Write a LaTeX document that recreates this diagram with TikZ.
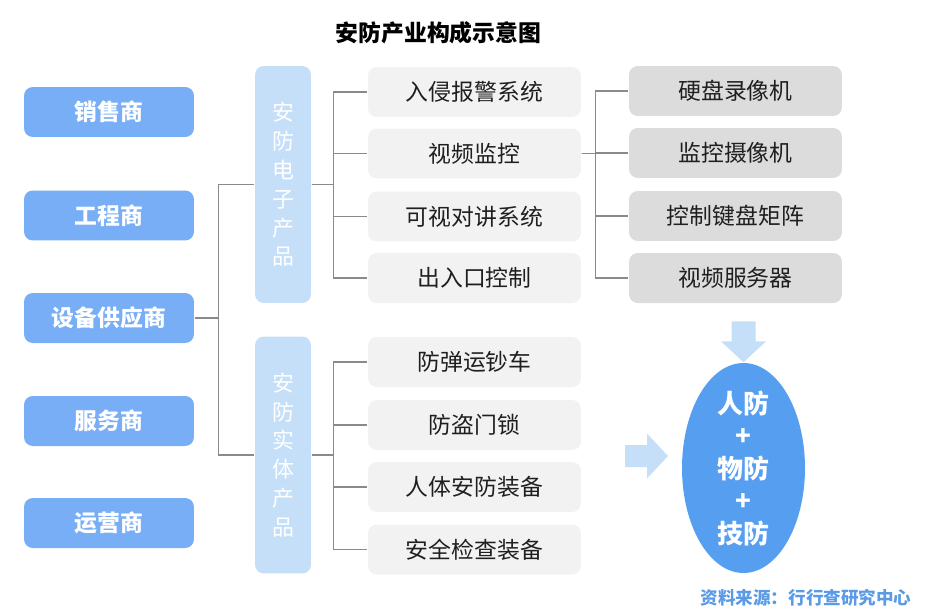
\documentclass[tikz,border=0pt]{standalone}
\usepackage{fontspec}
\setmainfont{Noto Sans CJK SC}
\usetikzlibrary{shapes.geometric}
\definecolor{partyblue}{HTML}{77AEF5}
\definecolor{groupblue}{HTML}{C6DFF8}
\definecolor{itemgray}{HTML}{F2F2F3}
\definecolor{subgray}{HTML}{DCDCDC}
\definecolor{coreblue}{HTML}{559EF0}
\definecolor{notecolor}{HTML}{5B9BE6}
\definecolor{linegray}{HTML}{8A8A8A}
\begin{document}
\begin{tikzpicture}[
        x=0.02cm, y=-0.02cm,
        party/.style = {rectangle, rounded corners=5pt, fill=partyblue, text=white,
            font=\fontsize{13}{15}\selectfont\bfseries, minimum width=3.4cm, minimum height=1cm},
        group/.style = {rectangle, rounded corners=5pt, fill=groupblue, text=white, align=center,
            font=\fontsize{12.5}{16.4}\selectfont, minimum width=1.12cm, minimum height=4.74cm},
        item/.style = {rectangle, rounded corners=5pt, fill=itemgray, text=black!88,
            font=\fontsize{13}{15}\selectfont, minimum width=4.26cm, minimum height=1cm},
        part/.style = {item, fill=subgray},
        link/.style = {draw=linegray, line width=0.9pt},
        thick
    ]
        \useasboundingbox (0,0) rectangle (932,612);
        \node[font=\fontsize{13}{15}\selectfont\bfseries] (title) at (438.5,33) {安防产业构成示意图};
        % parties
        \node[party] (p1) at (109,112) {销售商};
        \node[party] (p2) at (109,215.5) {工程商};
        \node[party] (p3) at (109,318) {设备供应商};
        \node[party] (p4) at (109,421) {服务商};
        \node[party] (p5) at (109,523) {运营商};
        % product groups
        \node[group] (g1) at (283,184.5) {安\\防\\电\\子\\产\\品};
        \node[group] (g2) at (283,455) {安\\防\\实\\体\\产\\品};
        \draw[link] (p3.east) -- ++(24,0) |- (g1.west);
        \draw[link] (p3.east) -- ++(24,0) |- (g2.west);
        % electronic products
        \node[item] (e1) at (474.5,92) {入侵报警系统};
        \node[item] (e2) at (474.5,153.5) {视频监控};
        \node[item] (e3) at (474.5,216.5) {可视对讲系统};
        \node[item] (e4) at (474.5,278) {出入口控制};
        \foreach \i in {1,...,4}
            \draw[link] (g1.east) -- ++(22,0) |- (e\i.west);
        % physical products
        \node[item] (s1) at (474.5,362) {防弹运钞车};
        \node[item] (s2) at (474.5,425) {防盗门锁};
        \node[item] (s3) at (474.5,487) {人体安防装备};
        \node[item] (s4) at (474.5,549.5) {安全检查装备};
        \foreach \i in {1,...,4}
            \draw[link] (g2.east) -- ++(22,0) |- (s\i.west);
        % video parts
        \node[part] (r1) at (735.5,91) {硬盘录像机};
        \node[part] (r2) at (735.5,153) {监控摄像机};
        \node[part] (r3) at (735.5,216) {控制键盘矩阵};
        \node[part] (r4) at (735.5,278) {视频服务器};
        \foreach \i in {1,...,4}
            \draw[link] (e2.east) -- ++(14,0) |- (r\i.west);
        % core
        \node[ellipse, fill=coreblue, inner sep=0pt, minimum width=2.46cm,
            minimum height=4.2cm] (core) at (743.5,468) {};
        \node[text=white, align=center, font=\fontsize{14.8}{18.5}\selectfont\bfseries]
            (coretext) at (core.center) {人防\\+\\物防\\+\\技防};
        \fill[groupblue] (core.north) -- ++(-22.5,-21) -- ++(10.5,0) -- ++(0,-20)
            -- ++(24,0) -- ++(0,20) -- ++(10.5,0) -- cycle;
        \coordinate (tip) at (668,456);
        \fill[groupblue] (tip) -- ++(-21,-22.5) -- ++(0,11.5) -- ++(-22,0) -- ++(0,22)
            -- ++(22,0) -- ++(0,11.5) -- cycle;
        \node[text=notecolor, font=\fontsize{10}{12}\selectfont\bfseries] (note) at (806,598) {资料来源：行行查研究中心};
    \end{tikzpicture}
\end{document}
